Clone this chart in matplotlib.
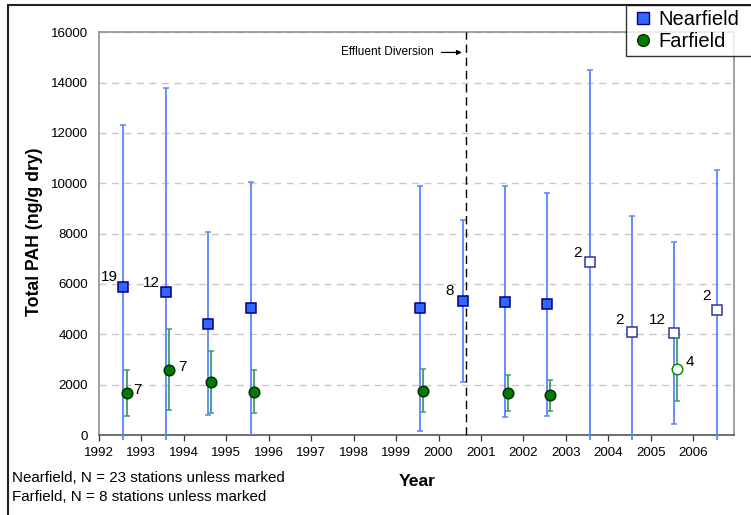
import numpy as np
import matplotlib.pyplot as plt
from matplotlib.patches import Rectangle
from matplotlib.lines import Line2D

plt.rcParams['font.family'] = ['Liberation Sans', 'DejaVu Sans']

# nearfield survey means and error bar ends (ng/g dry)
near_year = [1992.575, 1993.575, 1994.575, 1995.57, 1999.56, 2000.57, 2001.56, 2002.56,
             2003.56, 2004.56, 2005.55, 2006.57]
near_mean = [5900, 5690, 4430, 5040, 5040, 5330, 5290, 5200, 6870, 4090, 4060, 4970]
near_hi = [12330, 13780, 8070, 10060, 9910, 8550, 9900, 9630, 14500, 8710, 7670, 10540]
near_lo = [-200, -200, 790, 0, 160, 2100, 700, 770, -200, -200, 450, -200]
near_open = [False] * 8 + [True] * 4
near_n = ['19', '12', '', '', '', '8', '', '', '2', '2', '12', '2']

# farfield survey means and error bar ends
far_year = [1992.65, 1993.65, 1994.64, 1995.645, 1999.64, 2001.63, 2002.62, 2005.62]
far_mean = [1680, 2600, 2090, 1720, 1760, 1680, 1590, 2610]
far_hi = [2600, 4200, 3320, 2580, 2610, 2390, 2200, 3840]
far_lo = [770, 980, 860, 860, 900, 960, 950, 1350]
far_open = [False] * 7 + [True]
far_n = ['7', '7', '', '', '', '', '', '4']

diversion_year = 2000.65
years = list(range(1992, 2007))

fig = plt.figure(figsize=(7.51, 5.15), dpi=100)
ax = fig.add_axes([99 / 751, 1 - 435 / 515, 635.3 / 751, 402.7 / 515])

near_err = '#5b85ff'
far_err = '#3f9c68'


def draw(xs, ms, hi, lo, opens, face, edge, ecol, open_edge, marker, z):
    xs, ms, hi, lo = map(np.asarray, (xs, ms, hi, lo))
    op = np.asarray(opens)
    # whiskers: vertical line plus caps, no cap where the bar runs below zero
    ax.vlines(xs, lo, hi, color=ecol, lw=1.3, zorder=z - 1, clip_on=False)
    ax.plot(xs, hi, ls='none', marker='_', ms=5, mew=1.1, color=ecol,
            zorder=z - 1, clip_on=False)
    pos = lo > 0
    ax.plot(xs[pos], lo[pos], ls='none', marker='_', ms=5, mew=1.1, color=ecol,
            zorder=z - 1, clip_on=False)
    ax.plot(xs[~op], ms[~op], ls='none', marker=marker, ms=7.6, mfc=face,
            mec=edge, mew=1.1, zorder=z)
    ax.plot(xs[op], ms[op], ls='none', marker=marker, ms=7.6, mfc='white',
            mec=open_edge, mew=1.1, zorder=z)


draw(near_year, near_mean, near_hi, near_lo, near_open,
     '#3366ff', '#000080', near_err, '#333399', 's', 4)
draw(far_year, far_mean, far_hi, far_lo, far_open,
     '#007a00', '#003300', far_err, '#009900', 'o', 6)

# station counts next to the markers (offsets in points)
near_off = [(-4, 7), (-4, 6.5), None, None, None, (-6, 7), None, None,
            (-6, 6.5), (-6, 9), (-6, 9), (-5, 10)]
far_off = [(4.5, 2), (6.5, 2), None, None, None, None, None, (6, 5.5)]
for x, y, t, off in zip(near_year, near_mean, near_n, near_off):
    if t:
        ax.annotate(t, (x, y), xytext=off, textcoords='offset points',
                    ha='right', va='center', fontsize=11)
for x, y, t, off in zip(far_year, far_mean, far_n, far_off):
    if t:
        ax.annotate(t, (x, y), xytext=off, textcoords='offset points',
                    ha='left', va='center', fontsize=11)

ax.axvline(diversion_year, color='black', lw=1.0, ls=(0, (6, 3.5)), zorder=3)
ax.text(diversion_year - 0.76, 15200, 'Effluent Diversion', fontsize=8.6,
        ha='right', va='center')
ax.annotate('', xy=(diversion_year - 0.1, 15200),
            xytext=(diversion_year - 0.58, 15200),
            arrowprops=dict(arrowstyle='-|>', color='black', lw=0.9,
                            mutation_scale=7, shrinkA=0, shrinkB=0))

ax.set_xlim(1992, 2006.97)
ax.set_ylim(0, 16000)
ax.set_xticks(years)
ax.set_xticklabels([str(y) for y in years])
ax.set_yticks(np.arange(0, 16001, 2000))
ax.yaxis.grid(True, color='#c8c8c8', ls=(0, (5, 4)), lw=1.0)
ax.set_axisbelow(True)
ax.tick_params(axis='x', direction='out', length=4, width=0.9, color='#333333',
               labelsize=9.6, pad=5)
ax.tick_params(axis='y', length=0, labelsize=9.6, pad=8)
for side in ('left', 'top', 'right'):
    ax.spines[side].set_color('#909090')
    ax.spines[side].set_linewidth(1.2)
ax.spines['bottom'].set_color('#555555')
ax.spines['bottom'].set_linewidth(1.2)

fig.text(35 / 751, 1 - 232 / 515, 'Total PAH (ng/g dry)', rotation=90,
         fontsize=12.7, fontweight='bold', ha='center', va='center')
fig.text(417 / 751, 1 - 481 / 515, 'Year', fontsize=12.6, fontweight='bold',
         ha='center', va='center')
fig.text(12 / 751, 1 - 478 / 515, 'Nearfield, N = 23 stations unless marked',
         fontsize=10.9, ha='left', va='center')
fig.text(12 / 751, 1 - 497 / 515, 'Farfield, N = 8 stations unless marked',
         fontsize=10.9, ha='left', va='center')

# outer border
fig.patches.append(Rectangle((8 / 751, -0.2), 1.2, 1.2 - 5 / 515,
                             transform=fig.transFigure, fill=False,
                             ec='#222222', lw=1.5))

handles = [Line2D([], [], ls='none', marker='s', ms=8.5, mfc='#3366ff', mec='#000080'),
           Line2D([], [], ls='none', marker='o', ms=8.5, mfc='#007a00', mec='#003300')]
leg = fig.legend(handles, ['Nearfield', 'Farfield'], loc='upper left',
                 bbox_to_anchor=(626 / 751, 1 - 5 / 515, 0.2, 0), mode='expand',
                 fontsize=14.5, frameon=True, fancybox=False, handlelength=1.2,
                 handletextpad=0.15, borderpad=0.25, labelspacing=0.15,
                 borderaxespad=0, edgecolor='black')
leg.get_frame().set_linewidth(1.0)

fig.savefig('out.png', dpi=100)
